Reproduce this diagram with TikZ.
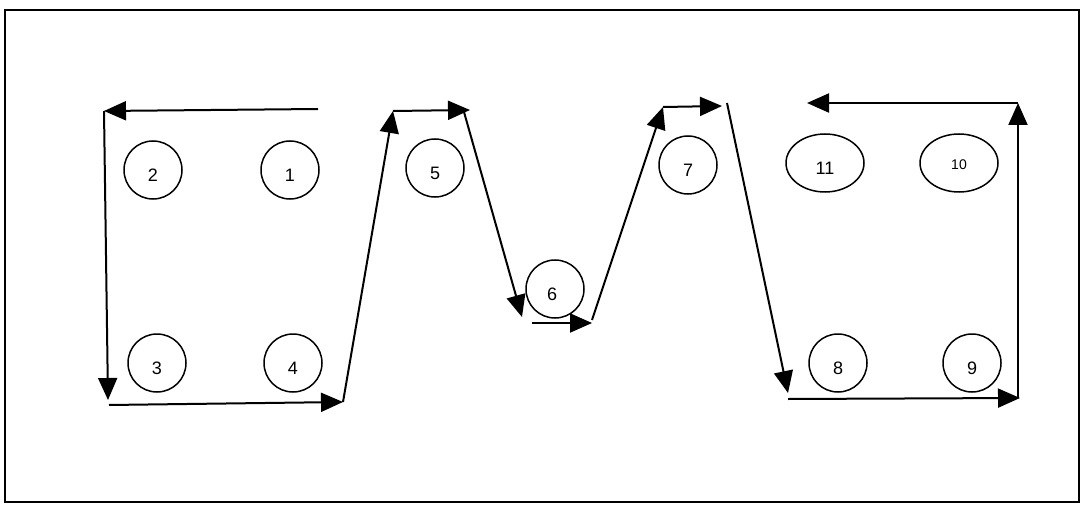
\documentclass[tikz,border=0pt]{standalone}
\usepackage{fontspec}
\setmainfont{Liberation Sans}
\usetikzlibrary{arrows.meta,shapes.geometric}
\begin{document}
\begin{tikzpicture}[x=1pt,y=-1pt,
  pt/.style={draw, circle, minimum size=58pt, inner sep=0pt, line width=1.5pt},
  ov/.style={draw, ellipse, minimum width=78pt, minimum height=58pt, inner sep=0pt, line width=1.5pt},
  num/.style={yshift=-5pt, font=\fontsize{18}{21}\selectfont},
  smallnum/.style={yshift=-2pt, font=\fontsize{14}{17}\selectfont},
  flow/.style={line width=2pt, -{Triangle[length=22pt,width=19pt]}}]
\useasboundingbox (0,0) rectangle (1081,513);
\draw[line width=2pt] (5,10) rectangle (1079,502);
% stations
\node[pt, label={[num]center:2}] (c2) at (153,170) {};
\node[pt, label={[num]center:1}] (c1) at (290,170) {};
\node[pt, label={[num]center:3}] (c3) at (157,363) {};
\node[pt, label={[num]center:4}] (c4) at (293,363) {};
\node[pt, label={[num]center:5}] (c5) at (435,168) {};
\node[pt, label={[num,xshift=-3pt]center:6}] (c6) at (555,289) {};
\node[pt, label={[num]center:7}] (c7) at (688,165) {};
\node[ov, label={[num]center:11}] (c11) at (825,163) {};
\node[ov, label={[smallnum]center:10}] (c10) at (959,163) {};
\node[pt, label={[num]center:8}] (c8) at (838,363) {};
\node[pt, label={[num]center:9}] (c9) at (972,363) {};
% path corners
\coordinate (p0) at (318,109);
\coordinate (p1) at (104,111);
\coordinate (p2) at (108,400);
\coordinate (p3) at (109,405);
\coordinate (p4) at (343,402);
\coordinate (p5) at (393,111);
\coordinate (p6) at (470,110);
\coordinate (p7) at (464,112);
\coordinate (p8) at (522,317);
\coordinate (p9) at (532,323);
\coordinate (p10) at (592,323);
\coordinate (p11) at (592,320);
\coordinate (p12) at (663,107);
\coordinate (p13) at (722,106);
\coordinate (p14) at (727,103);
\coordinate (p15) at (788,393);
\coordinate (p16) at (788,399);
\coordinate (p17) at (1020,398);
\coordinate (p18) at (1018,398);
\coordinate (p19) at (1018,103);
\coordinate (p20) at (807,103);
% flow arrows
\draw[flow] (p0) -- (p1);
\draw[flow] (p1) -- (p2);
\draw[flow] (p3) -- (p4);
\draw[flow] (p4) -- (p5);
\draw[flow] (p5) -- (p6);
\draw[flow] (p7) -- (p8);
\draw[flow] (p9) -- (p10);
\draw[flow] (p11) -- (p12);
\draw[flow] (p12) -- (p13);
\draw[flow] (p14) -- (p15);
\draw[flow] (p16) -- (p17);
\draw[flow] (p18) -- (p19);
\draw[flow] (p19) -- (p20);
\end{tikzpicture}
\end{document}
